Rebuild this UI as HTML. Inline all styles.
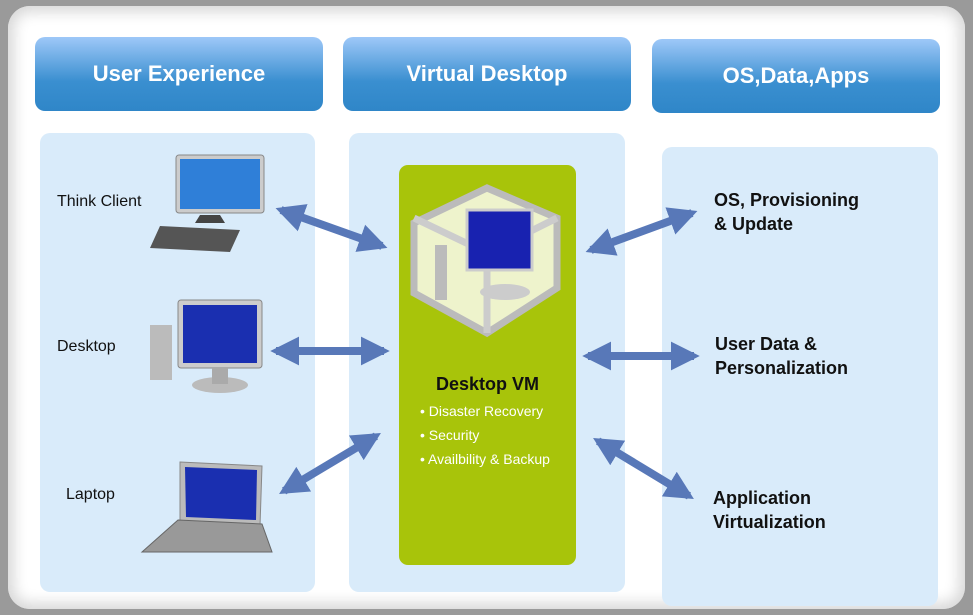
<!DOCTYPE html>
<html><head><meta charset="utf-8"><style>
body{margin:0;width:973px;height:615px;overflow:hidden;background:#9a9a9a;font-family:"Liberation Sans","DejaVu Sans",sans-serif;}
.frame{position:absolute;left:8px;top:6px;width:957px;height:603px;background:#fff;border-radius:22px;box-shadow:0 0 14px 6px #d8d8d8 inset;}
.h{position:absolute;height:74px;border-radius:10px;background:linear-gradient(#9ec8f8,#3a8fd0 60%,#2f86c8);color:#fff;font-weight:bold;font-size:22px;display:flex;align-items:center;justify-content:center;}
.p{position:absolute;background:#d9ebfa;border-radius:10px;}
.t{position:absolute;font-size:16px;color:#111;}
.b{position:absolute;font-size:18px;font-weight:bold;color:#111;line-height:24px;}
</style></head><body>
<div class="frame"></div>
<div class="h" style="left:35px;top:37px;width:288px">User Experience</div>
<div class="h" style="left:343px;top:37px;width:288px">Virtual Desktop</div>
<div class="h" style="left:652px;top:39px;width:288px">OS,Data,Apps</div>
<div class="p" style="left:40px;top:133px;width:275px;height:459px"></div>
<div class="p" style="left:349px;top:133px;width:276px;height:459px"></div>
<div class="p" style="left:662px;top:147px;width:276px;height:459px"></div>
<div style="position:absolute;left:399px;top:165px;width:177px;height:400px;background:#a8c40a;border-radius:9px"></div>
<div class="t" style="left:57px;top:193px">Think Client</div>
<div class="t" style="left:57px;top:338px">Desktop</div>
<div class="t" style="left:66px;top:486px">Laptop</div>
<div class="b" style="left:714px;top:188px">OS, Provisioning<br>&amp; Update</div>
<div class="b" style="left:715px;top:332px">User Data &amp;<br>Personalization</div>
<div class="b" style="left:713px;top:486px">Application<br>Virtualization</div>
<div style="position:absolute;left:399px;top:374px;width:177px;text-align:center;font-weight:bold;font-size:18px;color:#111">Desktop VM</div>
<div style="position:absolute;left:420px;top:399px;color:#fff;font-size:14px;line-height:24px">• Disaster Recovery<br>• Security<br>• Availbility &amp; Backup</div>
<svg width="973" height="615" style="position:absolute;left:0;top:0">
<defs><marker id="a" viewBox="0 0 10 10" refX="8" refY="5" markerWidth="3.6" markerHeight="3.6" orient="auto-start-reverse"><path d="M0,0L10,5L0,10z" fill="#5878b8"/></marker></defs>
<g stroke="#5878b8" stroke-width="8" marker-start="url(#a)" marker-end="url(#a)">
<line x1="281" y1="210" x2="382" y2="246"/>
<line x1="276" y1="351" x2="384" y2="351"/>
<line x1="284" y1="491" x2="376" y2="436"/>
<line x1="591" y1="250" x2="692" y2="213"/>
<line x1="588" y1="356" x2="694" y2="356"/>
<line x1="598" y1="441" x2="689" y2="496"/>
</g>
<rect x="176" y="155" width="88" height="58" rx="3" fill="#ccc" stroke="#888"/>
<rect x="180" y="159" width="80" height="50" fill="#2f7fd8"/>
<path d="M200 215h20l5 8h-30z" fill="#444"/>
<path d="M160 226l80 4-10 22-80-4z" fill="#555"/>
<rect x="150" y="325" width="22" height="55" fill="#bbb"/>
<rect x="178" y="300" width="84" height="68" rx="3" fill="#ccc" stroke="#888"/>
<rect x="183" y="305" width="74" height="58" fill="#1a2fb0"/>
<ellipse cx="220" cy="385" rx="28" ry="8" fill="#bbb"/>
<rect x="212" y="368" width="16" height="16" fill="#aaa"/>
<path d="M180 462l82 4-2 60-80-4z" fill="#bbb" stroke="#888"/>
<path d="M185 467l72 3-1 50-70-3z" fill="#1a2fb0"/>
<path d="M178 520l84 4 10 28-130 0z" fill="#999" stroke="#666"/>
<path d="M487 188l70 30v70l-70 45-73-40v-70z" fill="#eef3cc" stroke="#bbb" stroke-width="7"/>
<path d="M414 218l73 35 70-35M487 253v80" fill="none" stroke="#ccc" stroke-width="7"/>
<rect x="467" y="210" width="65" height="60" fill="#1822b0" stroke="#ccc" stroke-width="3"/>
<rect x="435" y="245" width="12" height="55" fill="#bbb"/>
<ellipse cx="505" cy="292" rx="25" ry="8" fill="#ccc"/>
</svg>
</body></html>
